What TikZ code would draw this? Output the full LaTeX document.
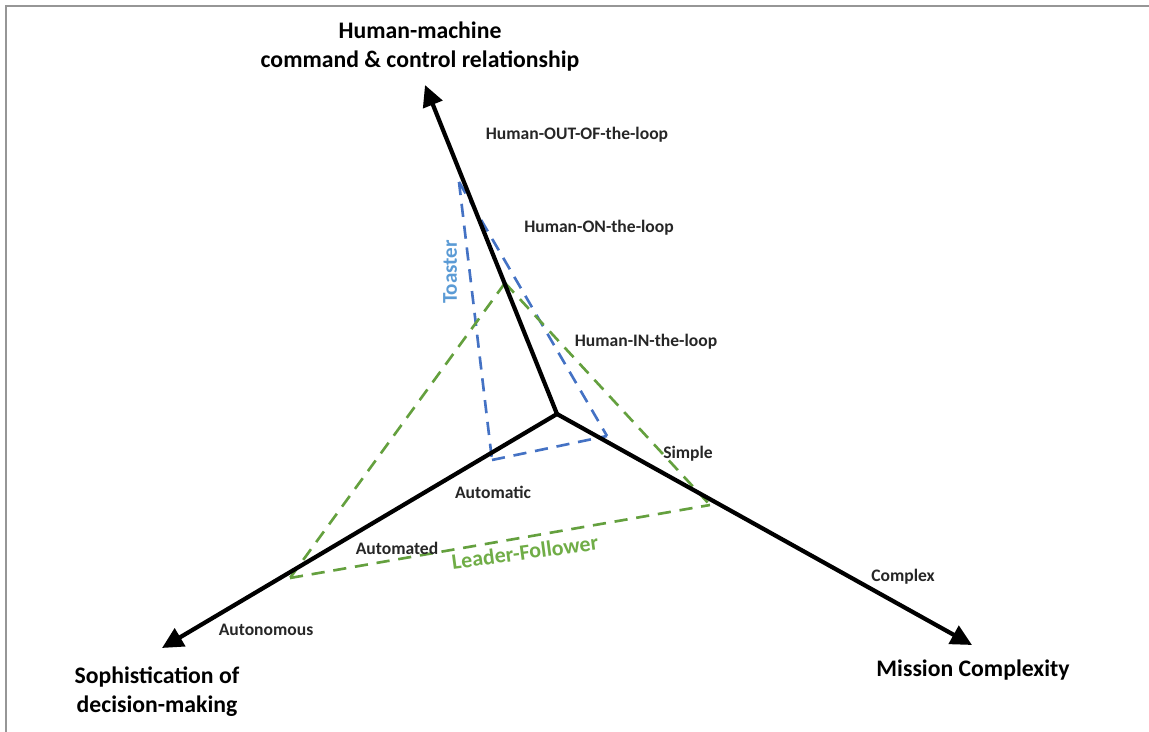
\documentclass[tikz,border=0pt]{standalone}
\usepackage{fontspec}
\setmainfont{Carlito}
\usetikzlibrary{arrows.meta}

\definecolor{frameg}{RGB}{150,150,150}
\definecolor{toastb}{RGB}{68,114,196}
\definecolor{toastt}{RGB}{91,155,213}
\definecolor{leadg}{RGB}{112,173,71}
\definecolor{leadl}{RGB}{100,160,62}

\tikzset{
  axisline/.style={line width=2.4pt, -{Triangle[length=12pt,width=11.5pt]}},
  toastline/.style={toastb, line width=1.5pt, dash pattern=on 7.5pt off 5pt},
  leadline/.style={leadl, line width=1.5pt, dash pattern=on 7.5pt off 5pt},
  biglabel/.style={font=\fontsize{13.5}{16.5}\selectfont\bfseries, align=center},
  levlabel/.style={font=\fontsize{10}{12}\selectfont\bfseries, text=black!85},
}

\begin{document}
\begin{tikzpicture}[x=0.02cm, y=-0.02cm]

\useasboundingbox (0,0) rectangle (1149,732);

%frame
\draw [frameg, line width=1.1pt] (6,732)--(6,6)--(1149,6);

\coordinate (O)  at (557,414);
\coordinate (C)  at (425,85);    % command & control
\coordinate (S)  at (162,648);   % sophistication
\coordinate (M)  at (972,645);   % mission
%
\coordinate (t1) at (459,182);
\coordinate (t2) at (492,460);
\coordinate (t3) at (607,436);
%
\coordinate (l1) at (505,283);
\coordinate (l2) at (290,578);
\coordinate (l3) at (710,505);

%toaster
\draw [toastline] (t1)--(t2);   %t1--t2
\draw [toastline] (t1)--(t3);   %t1--t3
\draw [toastline] (t2)--(t3);   %t2--t3

%leader-follower
\draw [leadline] (l1)--(l2);    %l1--l2
\draw [leadline] (l1)--(l3);    %l1--l3
\draw [leadline] (l2)--(l3);    %l2--l3

%axes
\draw [axisline] (O)--(C);
\draw [axisline] (O)--(S);
\draw [axisline] (O)--(M);

%labels
\node [biglabel] (hmc) at (420,47)  {Human-machine\\command \& control relationship};
\node [biglabel] (sdm) at (157,692) {Sophistication of\\decision-making};
\node [biglabel] (mcx) at (973,670) {Mission Complexity};
%
\node [levlabel] (out) at (577,135) {Human-OUT-OF-the-loop};
\node [levlabel] (on)  at (599,228) {Human-ON-the-loop};
\node [levlabel] (in)  at (646,342) {Human-IN-the-loop};
\node [levlabel] (sim) at (688,454) {Simple};
\node [levlabel] (cpx) at (903,577) {Complex};
\node [levlabel] (atc) at (493,492) {Automatic};
\node [levlabel] (atd) at (397,548) {Automated};
\node [levlabel] (aut) at (266,630) {Autonomous};
%
\node [font=\fontsize{12}{14}\selectfont\bfseries, text=toastt, rotate=90] (toast) at (450,272) {Toaster};
\node [font=\fontsize{12.5}{15}\selectfont\bfseries, text=leadg, rotate=7.6] (lead) at (525,552) {Leader-Follower};

\end{tikzpicture}
\end{document}
